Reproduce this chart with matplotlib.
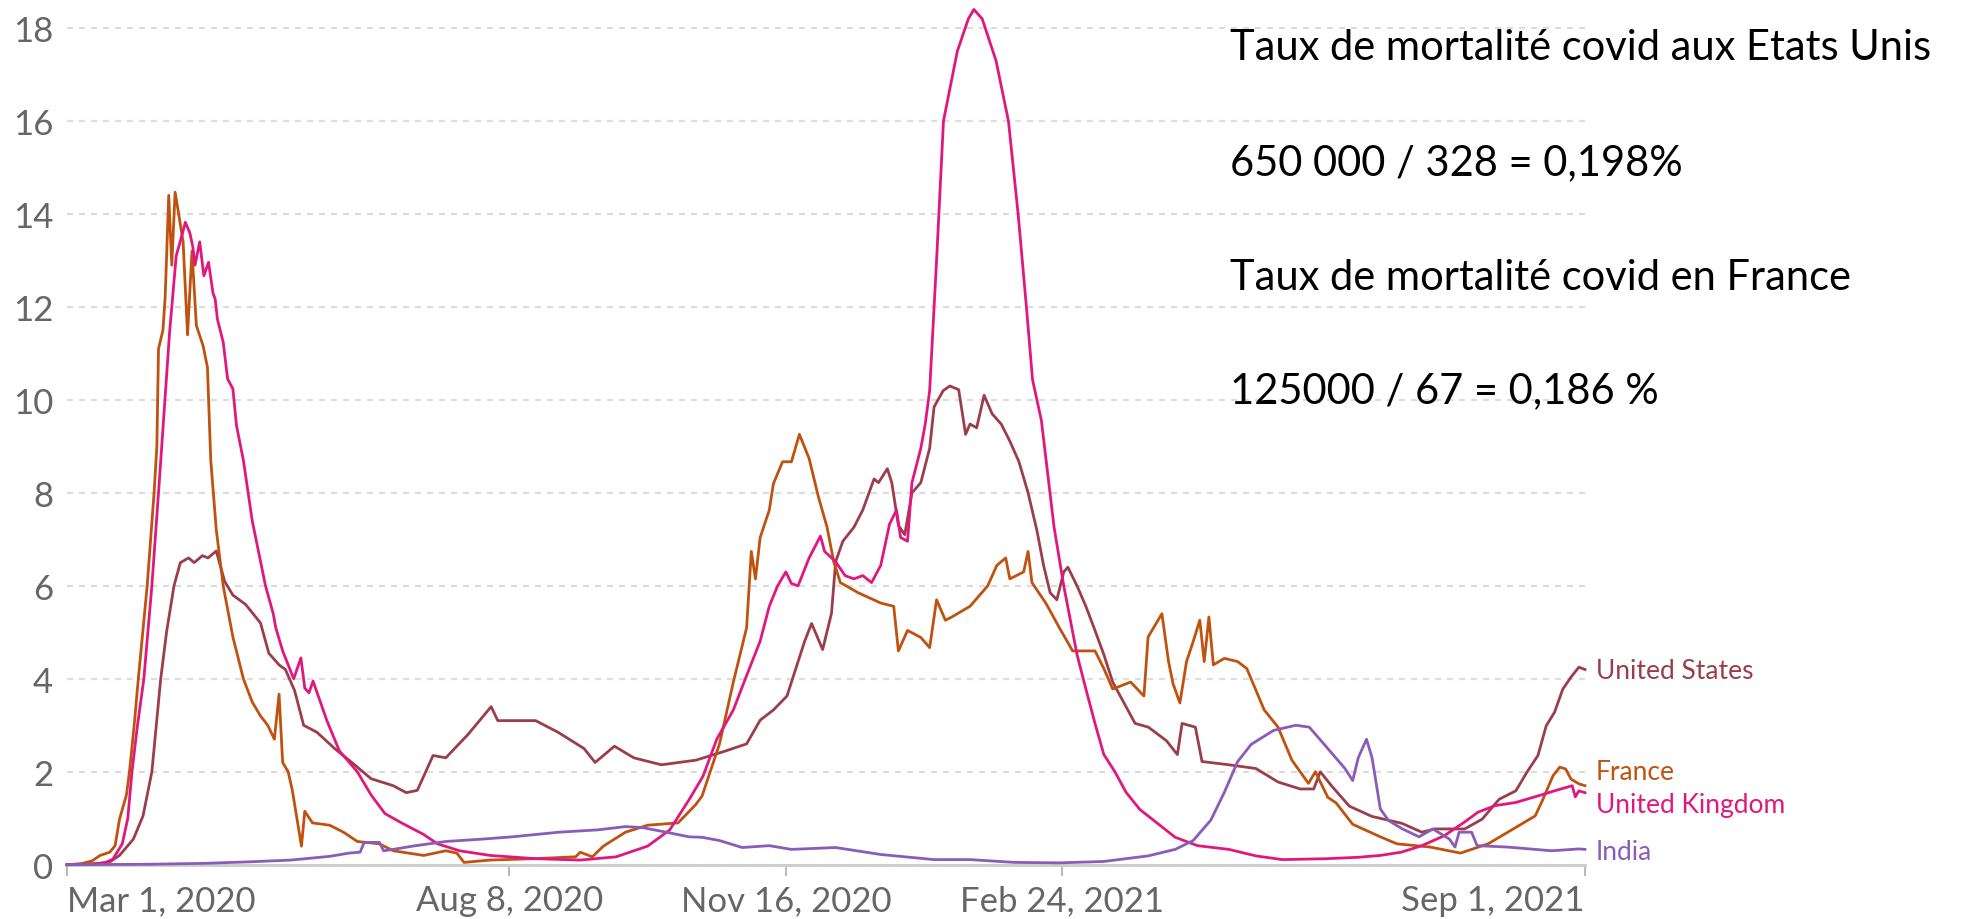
import datetime as dt
import matplotlib
matplotlib.use("Agg")
import matplotlib.pyplot as plt

# daily new covid deaths per million, 7-day average
# x values are days since Mar 1, 2020
start = dt.datetime(2020, 3, 1)

us_days = [0, 12, 15.5, 19, 24, 27.5, 30.7, 32.3, 33.9, 36, 38.7, 41, 44, 46, 49, 51, 54, 57, 60, 64.6,
           70, 73, 76.7, 79, 82.3, 85.6, 90.4, 96.8, 103, 110, 118, 122.7, 126.7, 132.4, 137, 145, 153.4,
           155.8, 169.5, 177.6, 187, 191, 198, 205, 215, 227.5, 237.8, 245.8, 250.7, 255.5, 260.4, 263.6,
           266.8, 269.3, 273.3, 276.5, 278, 280.6, 284.6, 287.8, 291.9, 293.5, 296.7, 298.3, 300.7, 303,
           305.6, 308.8, 312, 313.6, 316.9, 319.3, 322.5, 325, 326.6, 329, 331.7, 334.6, 337.9, 341.1,
           344.3, 347.6, 350.8, 353.2, 355.6, 358, 360.5, 362, 365.3, 368.5, 371.8, 375, 378.2, 382.3,
           386.3, 391.1, 397.6, 401.6, 403.3, 408.1, 410.5, 420.2, 430, 438, 446, 450.9, 453.3, 457.3,
           463.8, 471.9, 482.8, 490, 494.7, 505.5, 511.8, 518, 524, 528, 532, 535, 538, 541, 544, 546.8, 549]
us_vals = [0, 0.03, 0.06, 0.2, 0.55, 1.05, 2.0, 3.0, 4.0, 5.0, 6.0, 6.5, 6.6, 6.5, 6.65, 6.6, 6.75, 6.1, 5.8, 5.6,
           5.2, 4.55, 4.3, 4.2, 3.75, 3.0, 2.85, 2.5, 2.2, 1.85, 1.7, 1.55, 1.6, 2.35, 2.3, 2.8, 3.4,
           3.1, 3.1, 2.85, 2.5, 2.2, 2.55, 2.3, 2.15, 2.25, 2.44, 2.6, 3.11, 3.33, 3.63, 4.22,
           4.81, 5.19, 4.63, 5.41, 6.52, 6.96, 7.26, 7.63, 8.3, 8.22, 8.52, 8.22, 7.3, 7.1,
           8.0, 8.22, 8.96, 9.85, 10.2, 10.3, 10.22, 9.26, 9.48, 9.4, 10.1, 9.7, 9.48, 9.1,
           8.67, 8.0, 7.19, 6.44, 5.85, 5.7, 6.3, 6.4, 6.0, 5.56, 5.04, 4.52, 3.93, 3.48,
           3.04, 2.96, 2.67, 2.37, 3.04, 2.96, 2.22, 2.15, 2.07, 1.78, 1.63, 1.63, 2.0, 1.7,
           1.26, 1.04, 0.89, 0.7, 0.77, 0.77, 0.98, 1.41, 1.59, 1.99, 2.35, 2.99, 3.28, 3.78, 4.04, 4.25, 4.2]

fr_days = [0, 5, 9, 12, 15.5, 17.4, 19, 21.5, 22.6, 24.3, 25.8, 29, 31.5, 32.5, 33.1, 34.7, 35.5, 36.8,
           37.9, 39.1, 40.4, 42, 43.6, 45.2, 46.8, 49.2, 50.8, 52, 54, 56.5, 60, 63.8, 67, 70, 72.6, 75,
           76.7, 78, 80, 81.5, 84.8, 86, 88.8, 95, 100, 105, 113, 118, 129, 137, 141, 143.6, 153, 169,
           184, 185.6, 190, 194, 202, 210, 221, 227.5, 229.7, 236, 241, 245.8, 247.5, 249, 250.7, 254,
           255.5, 258.8, 262, 264.9, 268.4, 271.7, 274.9, 277.3, 279.7, 286.2, 294.3, 299, 300.7, 304,
           308.8, 312, 314.5, 317.7, 320, 326.6, 333, 336.3, 339.5, 341, 346, 347.6, 349, 354, 358.9,
           363.7, 371.8, 375, 378.2, 384.7, 389.5, 391, 396, 398.4, 400, 402.5, 404.9, 407.3, 409.7,
           411.3, 413, 414.6, 418.6, 423.4, 426.7, 433, 438, 443, 449, 451.5, 456, 459, 465, 475, 481,
           493, 504, 514, 525, 531, 533.6, 537.5, 539.9, 542, 544, 546.8, 549]
fr_vals = [0, 0.02, 0.08, 0.2, 0.27, 0.41, 0.98, 1.5, 2.0, 3.0, 4.0, 6.0, 8.0, 9.0, 11.1, 11.5, 12.2, 14.4,
           12.9, 14.47, 14.0, 13.4, 11.4, 13.2, 11.6, 11.17, 10.7, 8.7, 7.2, 6.0, 4.9, 4.0, 3.5, 3.2, 3.0, 2.7,
           3.67, 2.2, 2.0, 1.6, 0.4, 1.15, 0.9, 0.85, 0.7, 0.5, 0.45, 0.3, 0.2, 0.3, 0.25, 0.05, 0.1, 0.13,
           0.17, 0.27, 0.17, 0.4, 0.7, 0.85, 0.9, 1.3, 1.48, 2.6, 3.93, 5.1, 6.74, 6.15, 7.04, 7.63,
           8.2, 8.67, 8.67, 9.26, 8.74, 7.93, 7.26, 6.52, 6.07, 5.85, 5.63, 5.56, 4.6, 5.04,
           4.89, 4.67, 5.7, 5.26, 5.33, 5.56, 6.0, 6.44, 6.6, 6.15, 6.3, 6.74, 6.07, 5.63, 5.1,
           4.6, 4.6, 4.22, 3.78, 3.93, 3.63, 4.9, 5.4, 4.37, 3.9, 3.48, 4.37, 4.8, 5.26,
           4.37, 5.33, 4.3, 4.44, 4.37, 4.22, 3.33, 2.96, 2.25, 1.75, 2.0, 1.45, 1.33, 0.87, 0.6, 0.45,
           0.38, 0.25, 0.45, 0.84, 1.05, 1.38, 1.92, 2.1, 2.06, 1.84, 1.74, 1.7]

uk_days = [0, 10, 14, 16.6, 20, 22, 23.5, 25.5, 27.8, 30.7, 33.1, 34.5, 37.1, 39.5, 41.2, 42.8, 44.4, 45.5,
           46.3, 48, 49.5, 51.2, 52.8, 53.6, 54.4, 56.5, 58.1, 60, 61.3, 63.8, 67, 71.8, 74.6, 75.5, 78, 82,
           84.6, 86, 87.5, 89, 94, 98.5, 105, 110, 115, 121, 129, 134, 142, 153, 169.5, 185.6, 198.6, 210,
           218, 225, 230, 235, 241, 245.8, 250.7, 254, 257, 260, 262, 264.4, 268.4, 272.5, 274, 278,
           281.4, 284.6, 287.8, 291, 294.3, 297.5, 300, 301.5, 304, 305.6, 308.8, 310.4, 312, 314.5, 317,
           322, 326, 328, 331, 336, 340.5, 344, 347, 349.2, 352.4, 357, 360.5, 365.3, 368.5, 371.8, 375,
           379, 383, 388, 394.4, 400.8, 408.9, 420.2, 430, 439.6, 455.7, 467, 475, 482.6, 490, 498, 505.5,
           510.3, 516.4, 524, 532, 538, 544.4, 545.5, 546.8, 549]
uk_vals = [0, 0.01, 0.05, 0.12, 0.45, 1.0, 2.0, 3.0, 4.0, 6.0, 8.0, 9.2, 11.45, 13.1, 13.46, 13.82, 13.6, 13.3,
           12.9, 13.4, 12.67, 12.96, 12.3, 12.17, 11.74, 11.24, 10.45, 10.24, 9.45, 8.7, 7.4, 6.0, 5.4, 5.1, 4.6, 4.0,
           4.45, 3.8, 3.7, 3.95, 3.1, 2.45, 2.0, 1.5, 1.1, 0.9, 0.65, 0.45, 0.3, 0.2, 0.13, 0.1, 0.17, 0.4,
           0.75, 1.4, 1.9, 2.7, 3.33, 4.07, 4.81, 5.56, 6.0, 6.3, 6.05, 6.0, 6.6, 7.07, 6.74, 6.52,
           6.22, 6.15, 6.22, 6.07, 6.44, 7.33, 7.63, 7.04, 6.96, 8.22, 8.96, 9.48, 10.2, 13.0, 16.0,
           17.5, 18.2, 18.4, 18.2, 17.3, 16.0, 14.0, 12.0, 10.44, 9.56, 7.26, 6.0, 4.52, 3.78, 3.04, 2.37,
           2.0, 1.56, 1.19, 0.89, 0.59, 0.41, 0.33, 0.19, 0.11, 0.13, 0.16, 0.2, 0.27, 0.41, 0.62, 0.92,
           1.13, 1.27, 1.34, 1.48, 1.59, 1.7, 1.46, 1.59, 1.55]

in_days = [0, 30, 50, 65, 81, 95, 102, 106, 107.5, 113, 114.5, 118, 125, 137, 150, 161, 178, 192, 202, 208,
           215, 225, 229.7, 236, 244.2, 254, 262, 278, 294.3, 313.6, 326.6, 342.7, 358.9, 375, 391, 400.8,
           407.3, 413.7, 418.6, 423.4, 428.3, 436.4, 444.4, 449.3, 455.7, 462.2, 465, 467, 470, 472, 475,
           478, 483, 489, 494, 500, 502, 503.5, 508, 510, 521, 537, 546.8, 549]
in_vals = [0, 0.01, 0.03, 0.06, 0.1, 0.18, 0.25, 0.27, 0.48, 0.48, 0.3, 0.33, 0.4, 0.5, 0.55, 0.6, 0.7, 0.75, 0.82, 0.8,
           0.72, 0.6, 0.59, 0.52, 0.37, 0.41, 0.33, 0.37, 0.22, 0.11, 0.11, 0.05, 0.04, 0.07, 0.19, 0.33,
           0.52, 0.96, 1.56, 2.22, 2.59, 2.89, 3.0, 2.96, 2.52, 2.07, 1.81, 2.3, 2.7, 2.3, 1.2,
           0.95, 0.77, 0.6, 0.77, 0.55, 0.38, 0.7, 0.7, 0.41, 0.38, 0.3, 0.34, 0.33]

countries = ["United States", "France", "United Kingdom", "India"]
colors = ["#9b3e4c", "#c0520f", "#e0187e", "#8a5cb7"]
label_y = [4.02, 1.84, 1.14, 0.12]   # baseline of the end labels

tick_days = [0, 160, 260, 360, 549]
tick_txt = ["Mar 1, 2020", "Aug 8, 2020", "Nov 16, 2020", "Feb 24, 2021", "Sep 1, 2021"]

notes = ["Taux de mortalité covid aux Etats Unis",
         "650 000 / 328 = 0,198%",
         "Taux de mortalité covid en France",
         "125000 / 67 = 0,186 %"]


def to_dates(days):
    return [start + dt.timedelta(days=d) for d in days]


fig = plt.figure(figsize=(19.76, 9.2), dpi=100)
ax = fig.add_axes([0.0339, 0.0590, 0.7682, 0.9397])

series = [(us_days, us_vals), (fr_days, fr_vals), (uk_days, uk_vals), (in_days, in_vals)]
for (d, v), name, c, ly in zip(series, countries, colors, label_y):
    ax.plot(to_dates(d), v, color=c, lw=2.0, solid_joinstyle="round", zorder=3, clip_on=False)
    ax.annotate(name, xy=(1, ly), xycoords=("axes fraction", "data"), xytext=(8, 0),
                textcoords="offset points", va="baseline", ha="left", color=c,
                fontsize=19, family="Lato", annotation_clip=False)

ax.set_xlim(start, start + dt.timedelta(days=549))
ax.set_ylim(0, 18.6)

ax.set_yticks(range(0, 19, 2))
ax.set_yticklabels([str(v) for v in range(0, 19, 2)], family="Lato", fontsize=25, color="#666666")
ax.tick_params(axis="y", length=0, pad=10)

ax.set_xticks(to_dates(tick_days))
ax.set_xticklabels(tick_txt, family="Lato", fontsize=25, color="#666666")
ax.tick_params(axis="x", length=8, width=1.5, color="#bbbbbb", pad=6)
labels = ax.get_xticklabels()
labels[0].set_ha("left")
labels[-1].set_ha("right")

ax.grid(axis="y", color="#dddddd", lw=1.6, linestyle=(0, (2.7, 2.7)), zorder=0)
for s in ["top", "right", "left"]:
    ax.spines[s].set_visible(False)
ax.spines["bottom"].set_color("#cccccc")
ax.spines["bottom"].set_linewidth(2.0)
ax.spines["bottom"].set_zorder(2)

base_y = [60, 175, 290, 403]
for txt, yb in zip(notes, base_y):
    fig.text(1230 / 1976, 1 - yb / 920, txt, family="Lato", fontsize=30, color="black",
             va="baseline", ha="left")

fig.savefig("out.png", dpi=100, facecolor="white")
